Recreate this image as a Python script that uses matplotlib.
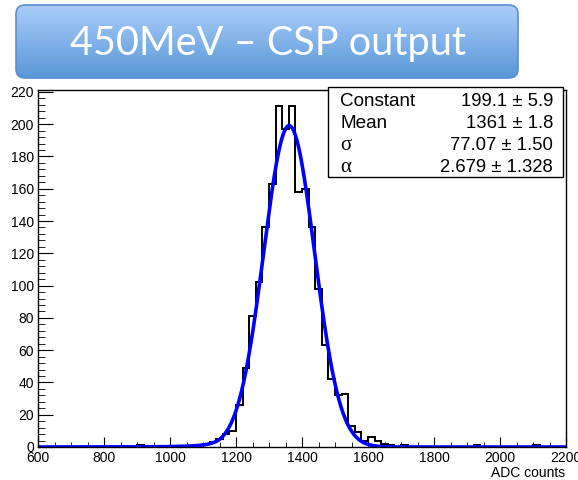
import numpy as np
import matplotlib
matplotlib.use("Agg")
import matplotlib.pyplot as plt
from matplotlib.patches import FancyBboxPatch, Rectangle
from matplotlib.ticker import MultipleLocator

# ── Data ────────────────────────────────────────────────────
BIN_WIDTH = 20
X_MIN, X_MAX = 600, 2200

# left edges of the non-empty bins and their counts
bin_lo = [900, 1080, 1100, 1120, 1140, 1160, 1180, 1200, 1220, 1240,
          1260, 1280, 1300, 1320, 1340, 1360, 1380, 1400, 1420, 1440,
          1460, 1480, 1500, 1520, 1540, 1560, 1580, 1600, 1620, 1640,
          1660, 1700, 1920, 2100]
counts = [1, 1, 2, 3, 5, 8, 10, 26, 49, 81,
          102, 136, 163, 211, 197, 211, 158, 160, 136, 98,
          63, 42, 32, 33, 13, 9, 4, 6, 4, 2,
          1, 1, 1, 1]

# fit results shown in the stats box
fit_names = ["Constant", "Mean", "σ", "α"]
fit_values = ["199.1 ± 5.9", "1361 ± 1.8", "77.07 ± 1.50", "2.679 ± 1.328"]
CONSTANT, MEAN, SIGMA, ALPHA = 199.1, 1361.0, 77.07, 2.679
N_TAIL = 3.0

TITLE = "450MeV – CSP output"
W, H = 578, 480


def crystal_ball(x):
    t = (x - MEAN) / SIGMA
    a = abs(ALPHA)
    A = (N_TAIL / a) ** N_TAIL * np.exp(-a * a / 2)
    B = N_TAIL / a - a
    out = np.exp(-t * t / 2)
    tail = t < -a
    out[tail] = A * (B - t[tail]) ** (-N_TAIL)
    return CONSTANT * out


edges = np.arange(X_MIN, X_MAX + BIN_WIDTH, BIN_WIDTH)
hist = np.zeros(len(edges) - 1)
for lo, c in zip(bin_lo, counts):
    hist[(lo - X_MIN) // BIN_WIDTH] = c

plt.rcParams["font.family"] = ["Liberation Sans", "DejaVu Sans"]

fig = plt.figure(figsize=(W / 100, H / 100), dpi=100, facecolor="white")

# ── Histogram panel ─────────────────────────────────────────
ax = fig.add_axes([38 / W, 1 - 447 / H, 528 / W, 357.5 / H])
ax.stairs(hist, edges, color="black", lw=1.4)
xs = np.linspace(X_MIN, X_MAX, 1200)
ax.plot(xs, crystal_ball(xs), color="#0000ff", lw=2.6)

ax.set_xlim(X_MIN, X_MAX)
ax.set_ylim(0, 221.5)
ax.xaxis.set_major_locator(MultipleLocator(200))
ax.xaxis.set_minor_locator(MultipleLocator(50))
ax.yaxis.set_major_locator(MultipleLocator(20))
ax.yaxis.set_minor_locator(MultipleLocator(4))
ax.tick_params(axis="both", which="both", direction="in", top=False,
               right=False, labelsize=10, colors="black")
ax.tick_params(axis="x", which="major", length=7.2, pad=3)
ax.tick_params(axis="x", which="minor", length=3.6)
ax.tick_params(axis="y", which="major", length=10.5, pad=3)
ax.tick_params(axis="y", which="minor", length=4.8)
for sp in ax.spines.values():
    sp.set_linewidth(1.0)

fig.text(565 / W, 1 - 477 / H, "ADC counts", ha="right", va="baseline",
         fontsize=10)

# ── Stats box ───────────────────────────────────────────────
fig.patches.append(Rectangle((328 / W, 1 - 177 / H), 235 / W, 90 / H,
                             transform=fig.transFigure, facecolor="white",
                             edgecolor="black", lw=1.0, zorder=5))
row_y = [106.5, 128.3, 150.5, 172.5]
for name, val, y in zip(fit_names, fit_values, row_y):
    if len(name) == 1:
        fig.text(340 / W, 1 - y / H, name, ha="left", va="baseline",
                 fontsize=15, family=["Liberation Serif"], zorder=6)
    else:
        fig.text(340 / W, 1 - y / H, name, ha="left", va="baseline",
                 fontsize=13.6, zorder=6)
    fig.text(553 / W, 1 - y / H, val, ha="right", va="baseline",
             fontsize=13.3, zorder=6)

# ── Title banner with vertical gradient ─────────────────────
bx = fig.add_axes([0, 0, 1, 1], zorder=10)
bx.set_xlim(0, W)
bx.set_ylim(H, 0)
bx.axis("off")
bx.patch.set_alpha(0)
banner = FancyBboxPatch((16, 5), 502, 73,
                        boxstyle="round,pad=0,rounding_size=9",
                        facecolor="none", edgecolor="#5a8fd3", lw=1.2)
bx.add_patch(banner)
top_c = np.array([0xab, 0xcd, 0xf9]) / 255
bot_c = np.array([0x58, 0x97, 0xd7]) / 255
grad = np.linspace(0, 1, 100)[:, None, None]
img = top_c * (1 - grad) + bot_c * grad
im = bx.imshow(np.repeat(img, 2, axis=1), extent=(16, 518, 78, 5),
               aspect="auto", zorder=0)
im.set_clip_path(banner)
bx.text(268, 55, TITLE, ha="center", va="baseline", color="white",
        fontsize=28.5, family=["Lato", "DejaVu Sans"])
bx.set_xlim(0, W)
bx.set_ylim(H, 0)

fig.savefig("out.png", dpi=100, facecolor="white")
